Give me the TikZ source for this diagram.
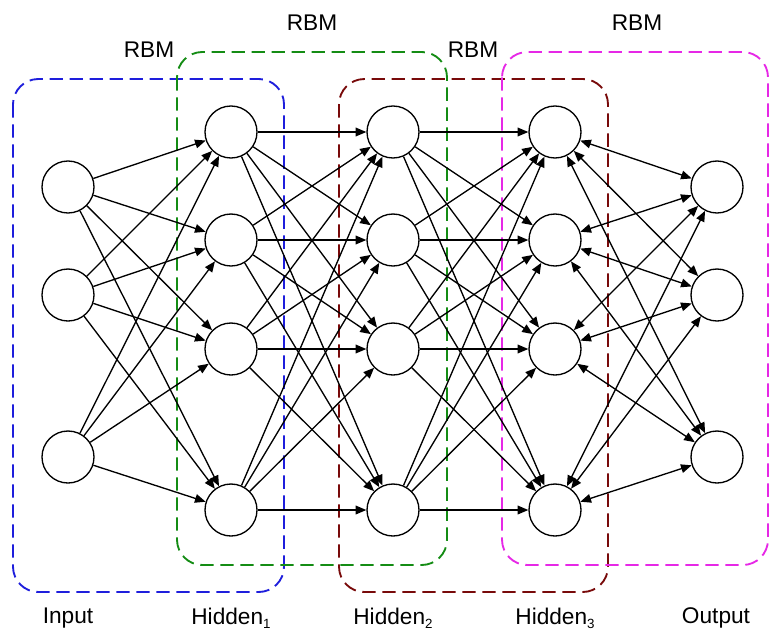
\documentclass[tikz,border=0pt]{standalone}
\usepackage{fontspec}
\setmainfont{Liberation Sans}
\usetikzlibrary{arrows.meta}
\newcommand{\lsub}[1]{\raisebox{-0.35ex}{\fontsize{10}{12}\selectfont #1}}
\begin{document}
\begin{tikzpicture}[x=0.75pt,y=-0.75pt,
  neuron/.style={circle,draw,line width=1pt,fill=white,minimum size=39pt,inner sep=0pt},
  arr/.style={line width=1pt,-{Triangle[length=8pt,width=6.5pt]}},
  darr/.style={line width=1pt,{Triangle[length=8pt,width=6.5pt]}-{Triangle[length=8pt,width=6.5pt]}},
  rbmbox/.style={line width=1.4pt,dash pattern=on 10pt off 5pt,rounded corners=19pt},
  lbl/.style={font=\fontsize{17}{20}\selectfont,inner sep=0pt}]
\useasboundingbox (0,0) rectangle (770,632);
\definecolor{cblue}{RGB}{30,30,220}
\definecolor{cgreen}{RGB}{20,140,20}
\definecolor{cred}{RGB}{120,10,10}
\definecolor{cmag}{RGB}{230,40,230}
% boxes
\draw[rbmbox,cblue] (13,79) rectangle (284,592);
\draw[rbmbox,cgreen] (177,52) rectangle (447,565);
\draw[rbmbox,cred] (339,79) rectangle (608,592);
\draw[rbmbox,cmag] (502,52) rectangle (768,565);
% labels
\node[lbl] (r1) at (149,50) {RBM};
\node[lbl] (r2) at (312,23) {RBM};
\node[lbl] (r3) at (473,50) {RBM};
\node[lbl] (r4) at (637,23) {RBM};
\node[lbl] (t1) at (68,618) {Input};
\node[lbl] (t2) at (231,618) {Hidden\lsub{1}};
\node[lbl] (t3) at (393,618) {Hidden\lsub{2}};
\node[lbl] (t4) at (555,618) {Hidden\lsub{3}};
\node[lbl] (t5) at (716,618) {Output};
% nodes
\foreach \j/\y in {1/187,2/295,3/457}{
  \node[neuron] (i\j) at (68,\y) {};
  \node[neuron] (o\j) at (717,\y) {};
}
\foreach \j/\y in {1/132,2/240,3/349,4/510}{
  \node[neuron] (a\j) at (231,\y) {};
  \node[neuron] (b\j) at (393,\y) {};
  \node[neuron] (c\j) at (555,\y) {};
}
% edges
\foreach \s in {1,2,3}{\foreach \t in {1,2,3,4}{\draw[arr] (i\s) -- (a\t);}}
\foreach \s in {1,2,3,4}{\foreach \t in {1,2,3,4}{\draw[arr] (a\s) -- (b\t);}}
\foreach \s in {1,2,3,4}{\foreach \t in {1,2,3,4}{\draw[arr] (b\s) -- (c\t);}}
\foreach \s in {1,2,3,4}{\foreach \t in {1,2,3}{\draw[darr] (c\s) -- (o\t);}}
\end{tikzpicture}
\end{document}
